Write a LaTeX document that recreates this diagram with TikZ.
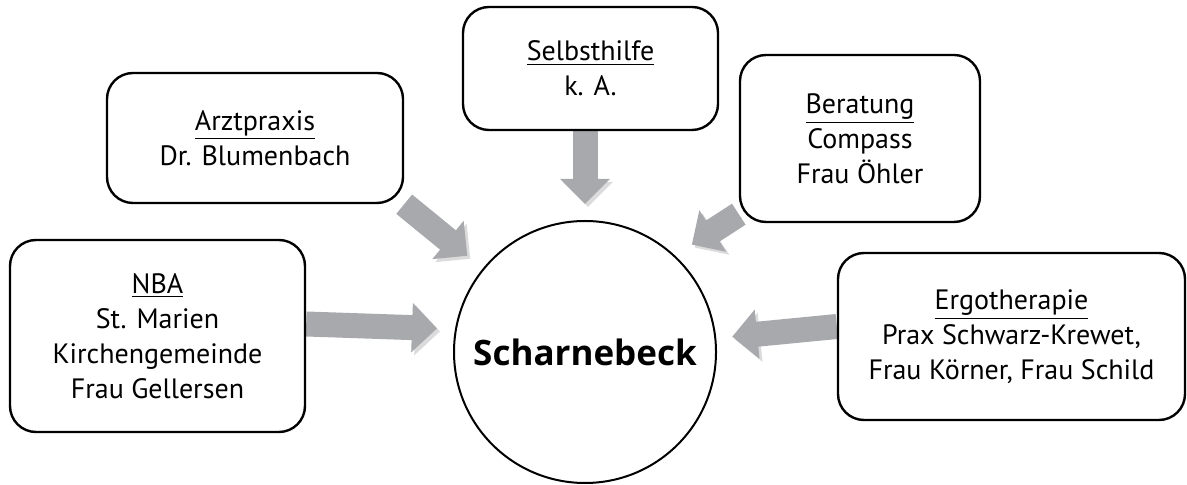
\documentclass[tikz,border=0pt]{standalone}
\usepackage{fontspec}
\setmainfont{PT Sans}
\newfontfamily\hubfont{Open Sans}
\usepackage{tikz}
\usetikzlibrary{positioning,calc,backgrounds}
\usetikzlibrary{arrows.meta}
\definecolor{arrowgray}{HTML}{A7A9AC}
\tikzstyle{flow} = [line width=12.5pt, draw=arrowgray, -{Triangle[length=12.5pt,width=24pt]}, preaction={draw=black!14, transform canvas={shift={(1.5pt,-1.5pt)}}}]

\begin{document}
\begin{tikzpicture}[x=0.5pt, y=-0.5pt, box/.style={draw, line width=1.2pt, rounded corners=13pt, fill=white, align=center, inner sep=0pt, font=\fontsize{14}{17.5}\selectfont}, hub/.style={circle, draw, line width=1pt, fill=white, inner sep=0pt, minimum size=131pt, font=\hubfont\bfseries\fontsize{17.5}{21}\selectfont}]
		
		\useasboundingbox (0,0) rectangle (1187,485);
		
		% CENTRE
		
		\node [hub] (scharnebeck) at (585,352) {Scharnebeck};
		
		% PARTNERS
		
		\node [box, minimum width=147.5pt, minimum height=96pt] (nba) at (157.5,336)
		{\underline{NBA}\\St. Marien\\Kirchengemeinde\\Frau Gellersen};
		
		\node [box, minimum width=148pt, minimum height=65pt] (arztpraxis) at (255,138)
		{\underline{Arztpraxis}\\Dr. Blumenbach};
		
		\node [box, minimum width=127.5pt, minimum height=61.5pt] (selbsthilfe) at (590.5,68.5)
		{\underline{Selbsthilfe}\\k. A.};
		
		\node [box, minimum width=120pt, minimum height=83.5pt] (beratung) at (860,138.5)
		{\underline{Beratung}\\Compass\\Frau Öhler};
		
		\node [box, minimum width=173.5pt, minimum height=83.5pt] (ergotherapie) at (1011.5,336.5)
		{\underline{Ergotherapie}\\Prax Schwarz-Krewet,\\Frau Körner, Frau Schild};
		
		% ARROWS
		
		\begin{scope}[on background layer]
		\draw [flow, shorten >=9pt] ([yshift=6pt]nba.east) -- (scharnebeck.170);
		\draw [flow, shorten >=10pt] (arztpraxis.south east) -- (scharnebeck);
		\draw [flow, shorten >=8pt] (selbsthilfe.south -| scharnebeck.north) -- (scharnebeck.north);
		\draw [flow, shorten >=10pt] ([yshift=4.5pt]beratung.south west) -- (scharnebeck.47);
		\draw [flow, shorten >=8pt] ([yshift=5pt]ergotherapie.west) -- (scharnebeck.6);
		\end{scope}
		
		\end{tikzpicture}
\end{document}
